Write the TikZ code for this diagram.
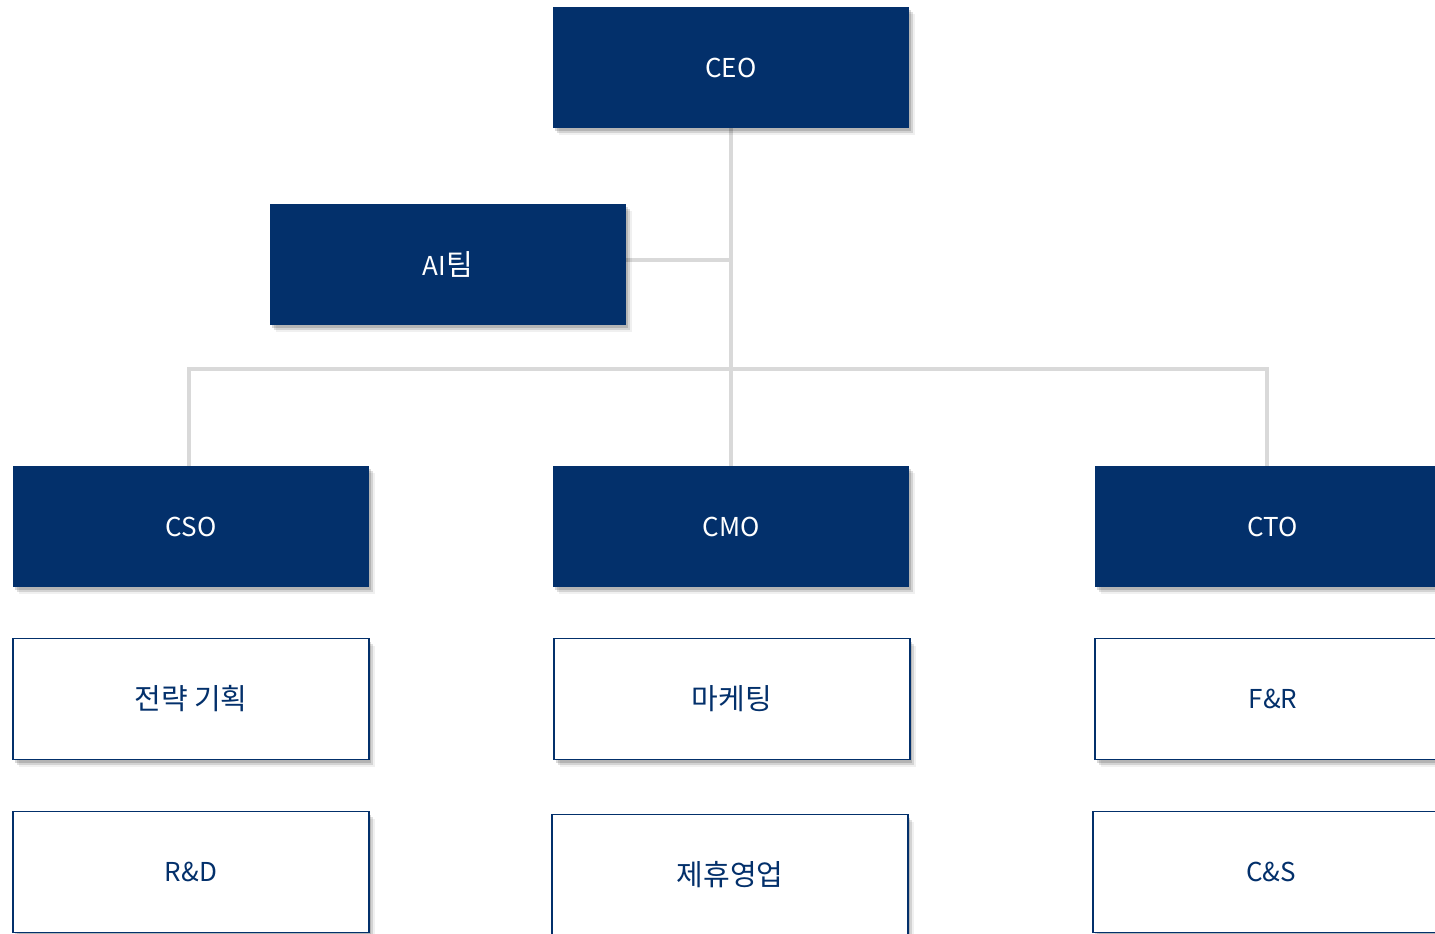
\documentclass[tikz,border=0pt]{standalone}
\usepackage{fontspec}
\setmainfont{Noto Sans CJK KR}
\usetikzlibrary{shadows,backgrounds}
\definecolor{navy}{HTML}{03306B}
\definecolor{linegray}{HTML}{D9D9D9}
\newcommand\kor[1]{{\fontsize{29}{33}\selectfont #1}}
\begin{document}
\begin{tikzpicture}[x=1pt,y=-1pt,
  box/.style={minimum width=356pt,minimum height=121pt,inner sep=0pt,
    font=\fontsize{26}{30}\selectfont,
    drop shadow={shadow xshift=2pt,shadow yshift=-3pt,opacity=0.15,fill=black},
    drop shadow={shadow xshift=4pt,shadow yshift=-5pt,opacity=0.12,fill=black},
    drop shadow={shadow xshift=6pt,shadow yshift=-7pt,opacity=0.06,fill=black}},
  solidbox/.style={box,fill=navy,text=white},
  openbox/.style={box,draw=navy,line width=1.8pt,fill=white,text=navy},
  conn/.style={draw=linegray,line width=4pt}]
\useasboundingbox (0,0) rectangle (1435,934);
\node[solidbox] (ceo) at (731,67.5) {CEO};
\node[solidbox] (ai) at (448,264.5) {AI\kor{팀}};
\node[solidbox] (cso) at (191,526.5) {CSO};
\node[solidbox] (cmo) at (731,526.5) {CMO};
\node[solidbox] (cto) at (1273,526.5) {CTO};
\node[openbox] (plan) at (191,699) {\kor{전략 기획}};
\node[openbox] (mkt) at (732,699) {\kor{마케팅}};
\node[openbox] (fr) at (1273,699) {F\&R};
\node[openbox] (rd) at (191,872) {R\&D};
\node[openbox] (sales) at (730,875) {\kor{제휴영업}};
\node[openbox] (cs) at (1271,872) {C\&S};
\coordinate (bus) at (731,369);
\coordinate (csotop) at ([xshift=-2pt]cso.north);
\coordinate (ctotop) at ([xshift=-6pt]cto.north);
\coordinate (aiout) at ([yshift=5pt]ai.east);
\begin{pgfonlayer}{background}
\draw[conn] (ceo.south) -- (cmo.north);
\draw[conn] (aiout) -- (aiout -| ceo.south);
\draw[conn] (csotop) |- (bus) -| (ctotop);
\end{pgfonlayer}
\end{tikzpicture}
\end{document}
